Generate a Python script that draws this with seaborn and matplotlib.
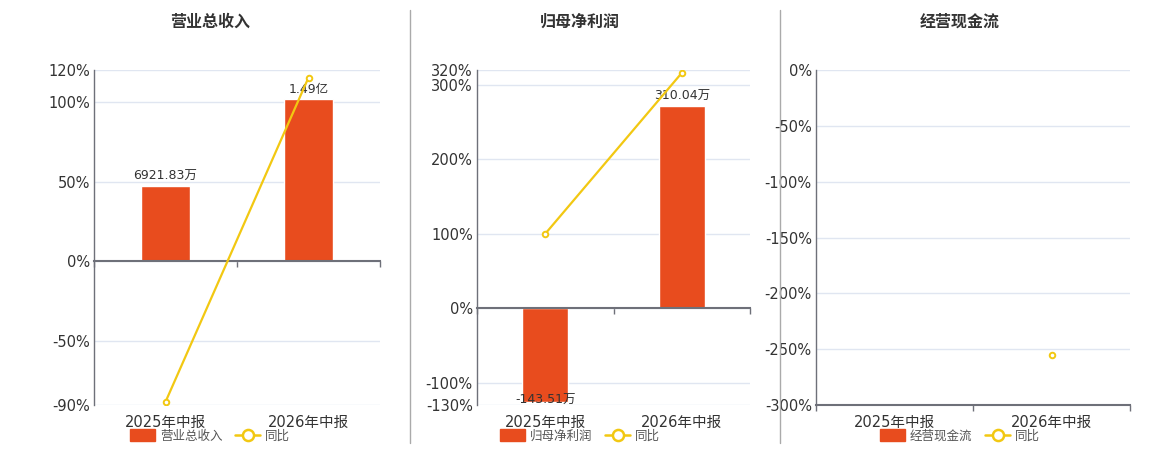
import numpy as np
import matplotlib
matplotlib.use("Agg")
import matplotlib.pyplot as plt
import seaborn as sns
from matplotlib.patches import Patch
from matplotlib.lines import Line2D

sns.set_theme(style="white")
plt.rcParams['font.family'] = ['DejaVu Sans', 'Noto Sans CJK SC']

# data
periods = ["2025年中报", "2026年中报"]
titles = ["营业总收入", "归母净利润", "经营现金流"]
bar_values = [[6921.83, 14900.0], [-143.51, 310.04], [np.nan, np.nan]]
bar_labels = [["6921.83万", "1.49亿"], ["-143.51万", "310.04万"], ["", ""]]
yoy_values = [[-88.05, 115.26], [100.0, 316.04], [np.nan, -254.9]]
pct_limits = [(-90, 120), (-130, 320), (-300, 0)]
pct_ticks = [[-90, -50, 0, 50, 100, 120], [-130, -100, 0, 100, 200, 300, 320],
             [-300, -250, -200, -150, -100, -50, 0]]

BAR = "#E84C1E"
LINE = "#F2C812"
AXC = "#6E7079"
GRID = "#E0E6F1"
TXT = "#333333"

fig = plt.figure(figsize=(11.6, 4.5), dpi=100)

# axes boxes in pixels: left, right ; titles / legend centre
boxes = [(94, 380), (477, 750), (816, 1130)]
centres = [210, 580, 960]
top_px, bot_px = 70, 405

for i in range(3):
    l, r = boxes[i]
    axb = fig.add_axes([l / 1160, 1 - bot_px / 450, (r - l) / 1160, (bot_px - top_px) / 450])
    ax = axb.twinx()
    lo, hi = pct_limits[i]

    vals = np.array(bar_values[i], dtype=float)
    if np.all(np.isnan(vals)):
        scale = 1.0
    else:
        # tallest bar sits at 85% of the upper half, zero aligned with % axis
        scale = np.nanmax(vals) / 0.85 / hi
        sns.barplot(x=periods, y=vals, order=periods, ax=axb, color=BAR,
                    width=0.34, saturation=1, errorbar=None)
        pos = [t if v >= 0 else "" for t, v in zip(bar_labels[i], vals)]
        neg = [t if v < 0 else "" for t, v in zip(bar_labels[i], vals)]
        axb.bar_label(axb.containers[0], labels=pos, padding=2, fontsize=9, color=TXT)
        axb.bar_label(axb.containers[0], labels=neg, padding=-6, fontsize=9, color=TXT)
    axb.set_ylim(lo * scale, hi * scale)
    axb.set_yticks([t * scale for t in pct_ticks[i]])
    axb.tick_params(axis='y', left=False, right=False, labelleft=False, labelright=False)
    axb.grid(axis='y', color=GRID, linewidth=1)
    axb.set_axisbelow(True)

    sns.pointplot(x=periods, y=yoy_values[i], order=periods, ax=ax, color=LINE,
                  errorbar=None, markers='o', linewidth=1.6, markersize=4,
                  markerfacecolor='white', markeredgewidth=1.4)
    ax.set_ylim(lo, hi)
    ax.set_yticks(pct_ticks[i])
    ax.set_yticklabels([f"{t}%" for t in pct_ticks[i]])
    ax.yaxis.tick_left()
    ax.tick_params(axis='y', left=False, right=False, length=0, labelsize=10.5,
                   labelcolor=TXT, pad=3)

    for a in (ax, axb):
        a.set_xlim(-0.5, 1.5)
        a.set_xlabel("")
        a.set_ylabel("")
        for s in ("top", "right"):
            a.spines[s].set_visible(False)
    ax.spines['left'].set_visible(False)
    ax.spines['bottom'].set_visible(False)
    axb.spines['left'].set_color(AXC)
    axb.spines['left'].set_linewidth(1)
    axb.spines['bottom'].set_color(AXC)
    axb.spines['bottom'].set_linewidth(1.5)
    # x axis line on zero (or bottom when zero is at an edge)
    if lo < 0 < hi:
        axb.spines['bottom'].set_position(('data', 0))

    # shared x: labels at category centres, tick marks at band edges
    ax.set_xticks([0, 1])
    ax.set_xticks([-0.5, 0.5, 1.5], minor=True)
    ax.xaxis.set_visible(True)
    ax.set_xticklabels(periods)
    ax.tick_params(axis='x', which='major', bottom=False, top=False, length=0,
                   labelbottom=True, labeltop=False, labelsize=10.5, labelcolor=TXT, pad=7)
    ax.tick_params(axis='x', which='minor', bottom=False, top=False)
    axb.tick_params(axis='x', which='major', bottom=False, labelbottom=False)
    axb.tick_params(axis='x', which='minor', bottom=True, length=4, width=1, color=AXC)

    fig.text(centres[i] / 1160, 1 - 22 / 450, titles[i], ha='center', va='center',
             fontsize=11.5, fontweight='bold', color=TXT)

    handles = [Patch(facecolor=BAR, edgecolor=BAR, label=titles[i]),
               Line2D([], [], color=LINE, linewidth=1.8, marker='o', markersize=8,
                      markerfacecolor='white', markeredgewidth=1.8, label="同比")]
    fig.legend(handles=handles, loc='center', bbox_to_anchor=(centres[i] / 1160, 1 - 436 / 450),
               ncol=2, frameon=False, fontsize=9, handlelength=2.0, handleheight=1.1,
               columnspacing=1.0, handletextpad=0.4, labelcolor='#555555')

for xp in (410, 780):
    fig.add_artist(Line2D([xp / 1160, xp / 1160], [1 - 10 / 450, 1 - 443 / 450],
                          color='#AAAAAA', linewidth=1))

fig.savefig("out.png", dpi=100)
